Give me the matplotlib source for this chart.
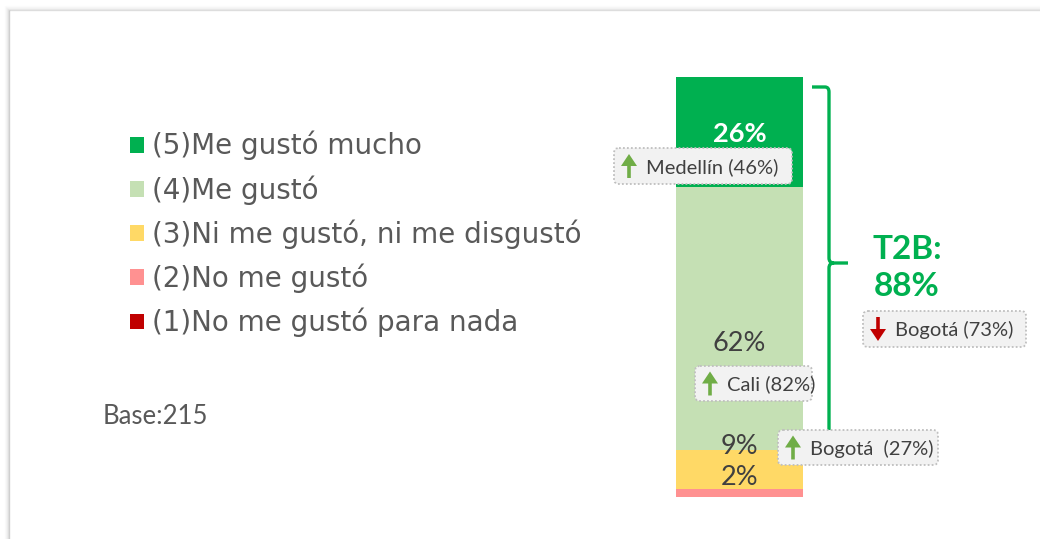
import matplotlib
matplotlib.use("Agg")
import matplotlib.pyplot as plt
from matplotlib.patches import FancyBboxPatch, Polygon
from matplotlib.path import Path
from matplotlib.patches import PathPatch

# ---------------- data ----------------
categories = ["(1)No me gustó para nada", "(2)No me gustó",
              "(3)Ni me gustó, ni me disgustó", "(4)Me gustó", "(5)Me gustó mucho"]
values = [0, 2, 9, 62, 26]          # stacked bottom -> top
value_labels = ["", "2%", "9%", "62%", "26%"]
t2b_label = "T2B:\n88%"
base_label = "Base:215"
callouts = ["Medellín (46%)", "Bogotá (73%)", "Cali (82%)", "Bogotá  (27%)"]
callout_dirs = ["up", "down", "up", "up"]

# ---------------- style ----------------
colors = ["#C00000", "#FF9191", "#FFD966", "#C5E0B4", "#00B050"]
label_colors = ["#404040", "#404040", "#404040", "#404040", "white"]
label_weights = ["normal", "normal", "normal", "normal", "bold"]
label_y = [0, 4.5, 11.8, 36.1, 85.5]           # label anchor (data units)
callout_boxes = [(614, 148, 178, 36), (863, 311, 163, 36),
                 (695, 366, 117, 35), (778, 430, 160, 35)]  # pixel x, y, w, h
GREEN = "#00B050"
TXT = "#595959"

W, H = 1040, 539
fig = plt.figure(figsize=(W / 100, H / 100), dpi=100)
fig.patch.set_facecolor("white")

# bar axes
bx = fig.add_axes([676 / W, 42 / H, 127 / W, 420 / H])
bx.set_xlim(-0.5, 0.5)
bx.set_ylim(0, sum(values))
bx.axis("off")
bottom = 0
handles = []
for v, c, lab in zip(values, colors, categories):
    b = bx.bar(0, v, width=1.0, bottom=bottom, color=c, label=lab, linewidth=0)
    handles.append(b)
    bottom += v
for lbl, y, c, w in zip(value_labels, label_y, label_colors, label_weights):
    if lbl:
        bx.text(0, y, lbl, ha="center", va="center", color=c, fontsize=19.5,
                fontweight=w, family="Lato", zorder=5)

# overlay axes in pixel coordinates
ov = fig.add_axes([0, 0, 1, 1])
ov.set_xlim(0, W)
ov.set_ylim(H, 0)
ov.axis("off")
ov.patch.set_alpha(0)
ov.set_zorder(3)

# card frame with soft shadow
for i, a in enumerate([0.35, 0.18, 0.10, 0.06, 0.03]):
    ov.plot([9 - i, 9 - i], [10 - i, H], color="#808080", alpha=a, lw=1, solid_capstyle="butt")
    ov.plot([9 - i, W], [10 - i, 10 - i], color="#808080", alpha=a * 0.7, lw=1, solid_capstyle="butt")

# legend
leg = fig.legend(handles=handles[::-1], labels=categories[::-1], loc="upper left",
                 bbox_to_anchor=(130 / W, 1 - 131 / H), frameon=False,
                 prop={"family": "DejaVu Sans", "size": 20},
                 handlelength=0.5, handleheight=0.5, handletextpad=0.3,
                 labelspacing=0.53, borderpad=0, borderaxespad=0)
for t in leg.get_texts():
    t.set_color(TXT)

ov.text(103, 417, base_label, ha="left", va="center", fontsize=18.5, family="Lato", color=TXT)

# brace
x0, xv, yt, ym, yb = 812, 829, 87, 263, 452
verts = [(x0, yt), (xv - 4, yt), (xv, yt), (xv, yt + 5),
         (xv, ym - 5), (xv, ym), (xv + 5, ym),
         (848, ym), (xv + 5, ym), (xv, ym), (xv, ym + 5),
         (xv, yb)]
codes = [Path.MOVETO, Path.LINETO, Path.CURVE3, Path.CURVE3,
         Path.LINETO, Path.CURVE3, Path.CURVE3,
         Path.LINETO, Path.MOVETO, Path.CURVE3, Path.CURVE3,
         Path.LINETO]
ov.add_patch(PathPatch(Path(verts, codes), fill=False, edgecolor=GREEN, lw=2.4,
                       capstyle="butt", joinstyle="round", zorder=2))

ov.text(907, 268, t2b_label, ha="center", va="center", fontsize=24, family="Lato",
        fontweight="bold", color=GREEN, linespacing=1.32)

# callout boxes
def arrow(cx, cy, up, color):
    hw, hh, sw, tot = 8, 12, 1.8, 24
    s = -1 if up else 1
    tip = cy + s * tot / 2
    base = cy - s * tot / 2
    neck = tip - s * hh
    pts = [(cx, tip), (cx + hw, neck), (cx + sw, neck), (cx + sw, base),
           (cx - sw, base), (cx - sw, neck), (cx - hw, neck)]
    ov.add_patch(Polygon(pts, closed=True, facecolor=color, edgecolor="none", zorder=6))

for (x, y, w, h), txt, d in zip(callout_boxes, callouts, callout_dirs):
    ov.add_patch(FancyBboxPatch((x + 3, y + 3), w - 6, h - 6,
                                boxstyle="round,pad=3,rounding_size=5",
                                facecolor="#F2F2F2", edgecolor="#BFBFBF",
                                linestyle=(0, (1, 1.2)), lw=1.3, zorder=5))
    up = d == "up"
    arrow(x + 15, y + h / 2, up, "#70AD47" if up else "#C00000")
    ov.text(x + 32, y + h / 2 + 1, txt, ha="left", va="center", fontsize=14.5,
            family="Lato", color="#404040", zorder=7)

fig.savefig("out.png", dpi=100, facecolor="white")
